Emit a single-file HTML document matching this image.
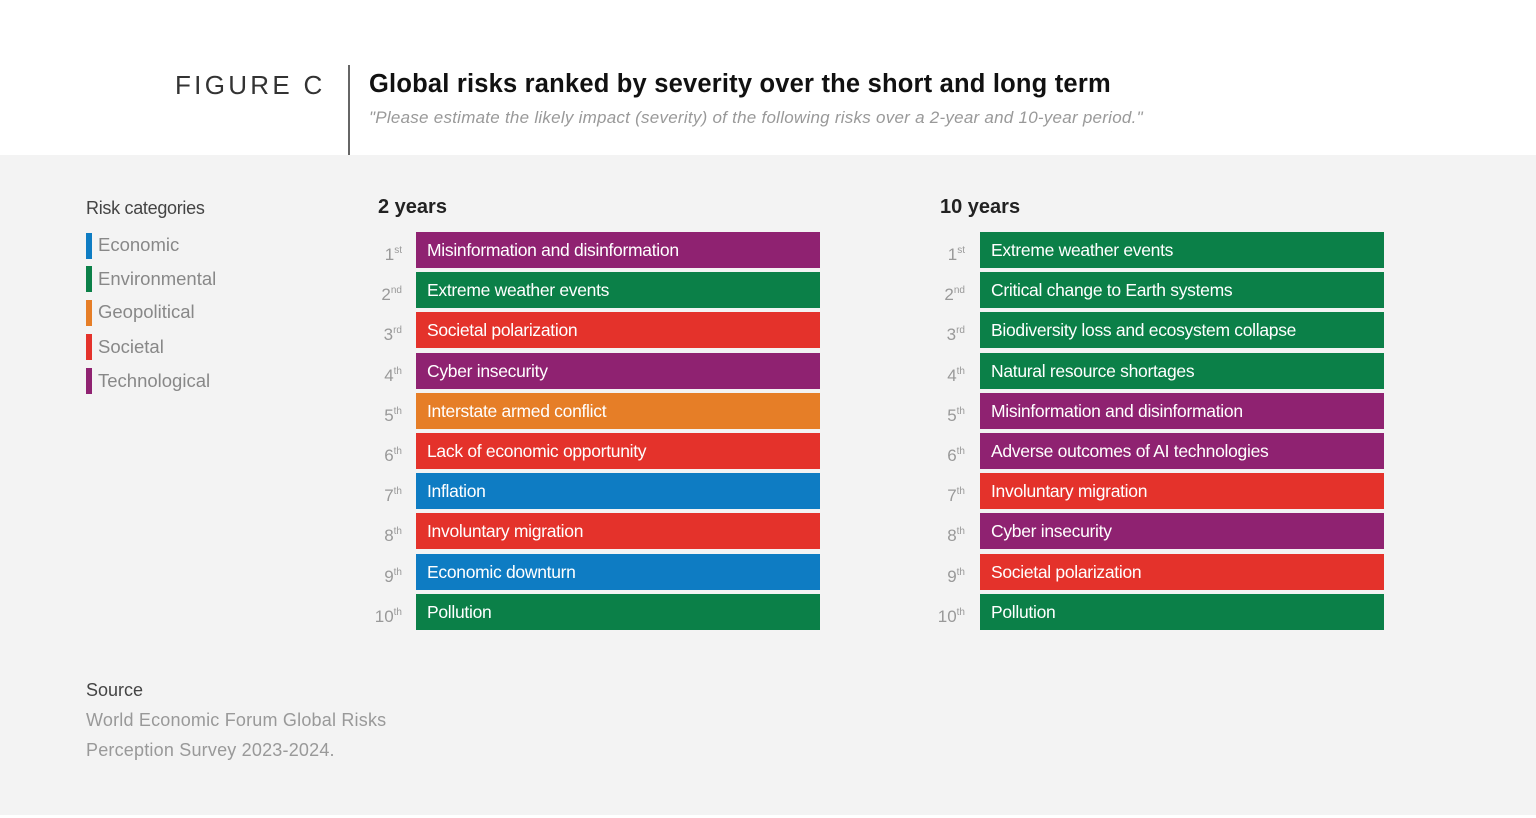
<!DOCTYPE html>
<html><head><style>
body{margin:0;width:1536px;height:818px;background:#fff;font-family:"Liberation Sans",sans-serif;position:relative;overflow:hidden}
.a{position:absolute;white-space:nowrap}
.bg{position:absolute;left:0;top:155px;width:1536px;height:660px;background:#f3f3f3}
.bar{position:absolute;height:36px;width:404px;color:#fff;font-size:17.5px;line-height:36px;padding-left:11px;box-sizing:border-box;letter-spacing:-0.3px}
.rk{position:absolute;width:34px;text-align:right;color:#999;font-size:17px;line-height:36px}
.rk sup{font-size:10px;vertical-align:7px}
.P{background:#8f2271}.G{background:#0b8048}.R{background:#e4322b}.O{background:#e67e27}.B{background:#0e7cc3}
.lg{position:absolute;left:86px;width:6px;height:26px}
.lt{position:absolute;left:98px;color:#888;font-size:18.5px}
</style></head><body>
<div class="bg"></div>
<div class="a" style="left:175px;top:70px;font-size:26px;letter-spacing:3.3px;color:#333">FIGURE C</div>
<div class="a" style="left:348px;top:65px;width:2px;height:90px;background:#666"></div>
<div class="a" style="left:369px;top:70px;font-size:25.5px;font-weight:bold;color:#111;letter-spacing:0.2px">Global risks ranked by severity over the short and long term</div>
<div class="a" style="left:369px;top:108px;font-size:17px;font-style:italic;color:#999;letter-spacing:0.25px">"Please estimate the likely impact (severity) of the following risks over a 2-year and 10-year period."</div>
<div class="a" style="left:86px;top:198px;font-size:18px;color:#444;letter-spacing:-0.3px">Risk categories</div>
<div class="lg B" style="top:233px"></div><div class="lt" style="top:234px">Economic</div>
<div class="lg G" style="top:266px"></div><div class="lt" style="top:268px">Environmental</div>
<div class="lg O" style="top:300px"></div><div class="lt" style="top:301px">Geopolitical</div>
<div class="lg R" style="top:334px"></div><div class="lt" style="top:336px">Societal</div>
<div class="lg P" style="top:368px"></div><div class="lt" style="top:370px">Technological</div>
<div class="a" style="left:378px;top:196px;font-size:20px;font-weight:bold;color:#222">2 years</div>
<div class="a" style="left:940px;top:196px;font-size:20px;font-weight:bold;color:#222">10 years</div>
<div id="c"></div>
<div class="a" style="left:86px;top:680px;font-size:18px;color:#444">Source</div>
<div class="a" style="left:86px;top:705px;font-size:18px;color:#999;line-height:30px;letter-spacing:0.2px">World Economic Forum Global Risks<br>Perception Survey 2023-2024.</div>
<script>
var L=[["P","Misinformation and disinformation"],["G","Extreme weather events"],["R","Societal polarization"],["P","Cyber insecurity"],["O","Interstate armed conflict"],["R","Lack of economic opportunity"],["B","Inflation"],["R","Involuntary migration"],["B","Economic downturn"],["G","Pollution"]];
var Rr=[["G","Extreme weather events"],["G","Critical change to Earth systems"],["G","Biodiversity loss and ecosystem collapse"],["G","Natural resource shortages"],["P","Misinformation and disinformation"],["P","Adverse outcomes of AI technologies"],["R","Involuntary migration"],["P","Cyber insecurity"],["R","Societal polarization"],["G","Pollution"]];
var s=["st","nd","rd","th","th","th","th","th","th","th"],h="";
for(var i=0;i<10;i++){var y=232+i*40.2;
h+='<div class="rk" style="left:368px;top:'+(y+1)+'px">'+(i+1)+'<sup>'+s[i]+'</sup></div>';
h+='<div class="bar '+L[i][0]+'" style="left:416px;top:'+y+'px">'+L[i][1]+'</div>';
h+='<div class="rk" style="left:931px;top:'+(y+1)+'px">'+(i+1)+'<sup>'+s[i]+'</sup></div>';
h+='<div class="bar '+Rr[i][0]+'" style="left:980px;top:'+y+'px">'+Rr[i][1]+'</div>';}
document.getElementById("c").innerHTML=h;
</script>
</body></html>
